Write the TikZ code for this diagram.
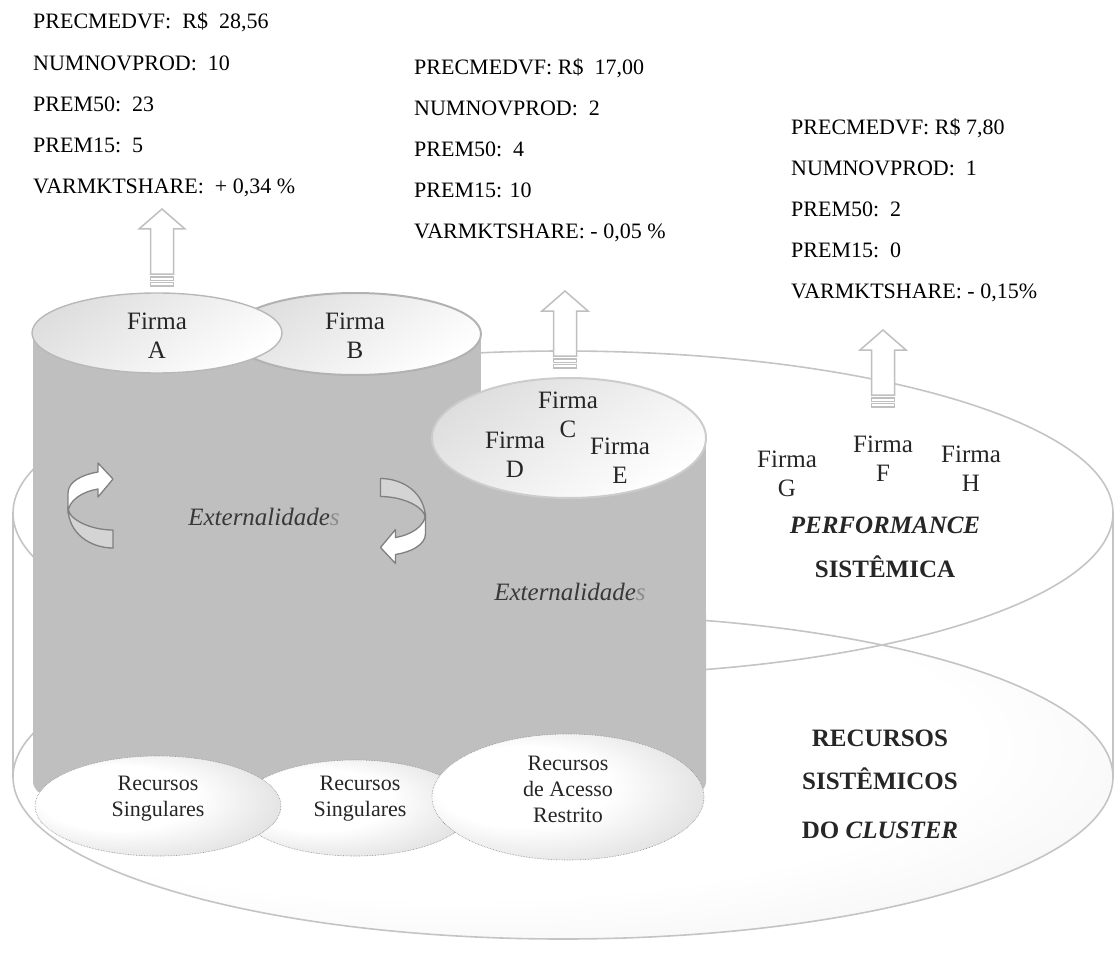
\documentclass[tikz,border=0pt]{standalone}
\usepackage{fontspec}
\setmainfont{Liberation Serif}
\definecolor{cylgray}{HTML}{BFBFBF}
\definecolor{rimgray}{HTML}{C4C4C4}
\definecolor{backgray}{HTML}{D4D4D4}
\definecolor{inkgray}{HTML}{262626}
\pgfdeclareradialshading{recshade}{\pgfpoint{-12bp}{6bp}}{color(0bp)=(white); color(16bp)=(white); color(50bp)=(black!26)}
\pgfdeclareradialshading{discshade}{\pgfpoint{-10bp}{10bp}}{color(0bp)=(white); color(24bp)=(white); color(50bp)=(black!11)}
\begin{document}
\begin{tikzpicture}[x=1pt,y=-1pt,
  stat/.style={anchor=base west, inner sep=0, font=\fontsize{22}{26}\selectfont, text=black},
  firma/.style={align=center, inner sep=0, font=\fontsize{25}{29}\selectfont, text=inkgray},
  rec/.style={align=center, inner sep=0, font=\fontsize{22}{26}\selectfont, text=inkgray},
  extl/.style={anchor=base, inner sep=0, font=\fontsize{25}{29}\selectfont\itshape, text=black!78},
  heavy/.style={anchor=base, inner sep=0, font=\fontsize{25}{29}\selectfont\bfseries, text=inkgray},
  rim/.style={draw=rimgray, line width=1.6pt},
  arrowline/.style={draw=black!25, line width=1.5pt, fill=white},
  turnline/.style={draw=black!50, line width=1.3pt, line join=round},
  topcap/.style={top color=black!13, bottom color=white, shading angle=35},
  resource/.style={shading=recshade, draw=black!45, densely dotted, line width=0.6pt},
  uparrow/.pic={
    \draw[arrowline] (0,0) -- (23,20) -- (11.5,20) -- (11.5,65) -- (-11.5,65)
          -- (-11.5,20) -- (-23,20) -- cycle;
    \draw[arrowline] (-11.5,68) rectangle (11.5,71.5);
    \draw[arrowline] (-11.5,73.5) rectangle (11.5,77);
  },
  turnarrow/.pic={
    % rear part of the ribbon
    \draw[turnline, fill=backgray] (-22.5,2) .. controls (-22.5,28) and (0,42.5) .. (22.5,42.5)
          -- (22.5,24.5) .. controls (0,24.5) and (-22.5,14) .. cycle;
    % front part of the ribbon with its head
    \draw[turnline, fill=white] (7.5,-33.5) -- (7.5,-42.5) -- (22.5,-26.5) -- (7.5,-8.5)
          -- (7.5,-16.5) .. controls (-8,-14) and (-22.5,-5) .. (-22.5,7.5)
          -- (-22.5,-12.5) .. controls (-22.5,-24) and (-8,-31) .. cycle;
  }
]
\useasboundingbox (0,0) rectangle (1115,968);

% base disc of systemic resources
\path[shading=discshade, rim] (563,777) ellipse [x radius=550, y radius=162];
\draw[rim] (13,513) -- (13,777);
\draw[rim] (1113,513) -- (1113,777);
% systemic performance level
\draw[rim] (563,513) ellipse [x radius=550, y radius=162];

% arrow of the firms outside the cluster core
\pic at (883,330) {uparrow};

% bodies of the firm cylinders
\fill[cylgray] (33,334) rectangle (481,700);
\fill[cylgray] (432,438) rectangle (706,700);
\fill[cylgray, rounded corners=14] (33,600) rectangle (706,795);

% tops of the cylinders
\path[topcap, draw=black!30, line width=2pt] (355,334) ellipse [x radius=126, y radius=41];
\path[topcap, draw=black!28, line width=1.4pt] (157,333) ellipse [x radius=125, y radius=40];
\path[topcap, draw=black!20, line width=2pt] (569,438) ellipse [x radius=137, y radius=60];

% resources at the base of the cylinders
\path[resource] (355,808) ellipse [x radius=116, y radius=48];
\path[resource] (158,806) ellipse [x radius=123, y radius=50];
\path[resource] (568,797) ellipse [x radius=136, y radius=63];

% externality loops
\pic at (90.5,505.5) {turnarrow};
\pic[rotate=180] at (403,521) {turnarrow};

% arrows above the cylinders
\pic at (162,209) {uparrow};
\pic at (565,291) {uparrow};

% firm labels
\node[firma] (fA) at (157,336) {Firma\\A};
\node[firma] (fB) at (355,336) {Firma\\B};
\node[firma] (fC) at (568,415) {Firma\\C};
\node[firma] (fD) at (515,455) {Firma\\D};
\node[firma] (fE) at (620,461) {Firma\\E};
\node[firma] (fG) at (787,474) {Firma\\G};
\node[firma] (fF) at (883,459) {Firma\\F};
\node[firma] (fH) at (971,469) {Firma\\H};

\node[extl] (ext1) at (264,525) {Externalidade{\color{black!45}s}};
\node[extl] (ext2) at (570,600) {Externalidade{\color{black!45}s}};

\node[heavy] (perf) at (885,533) {\itshape PERFORMANCE};
\node[heavy] (sist) at (885,577) {SISTÊMICA};

\node[heavy] (rs1) at (880,746) {RECURSOS};
\node[heavy] (rs2) at (880,789) {SISTÊMICOS};
\node[heavy] (rs3) at (880,838) {DO \textit{CLUSTER}};

\node[rec] (r1) at (158,799) {Recursos\\Singulares};
\node[rec] (r2) at (360,799) {Recursos\\Singulares};
\node[rec] (r3) at (568,789) {Recursos\\de Acesso\\Restrito};

% indicators of each group
\node[stat] (a1) at (33,29) {PRECMEDVF:\ \ R\$\ \ 28,56};
\node[stat] (a2) at (33,70.25) {NUMNOVPROD:\ \ 10};
\node[stat] (a3) at (33,111.5) {PREM50:\ \ 23};
\node[stat] (a4) at (33,152.75) {PREM15:\ \ 5};
\node[stat] (a5) at (33,194) {VARMKTSHARE:\ \ + 0,34 \%};

\node[stat] (b1) at (414,75) {PRECMEDVF: R\$\ \ 17,00};
\node[stat] (b2) at (414,115.75) {NUMNOVPROD:\ \ 2};
\node[stat] (b3) at (414,156.5) {PREM50:\ \ 4};
\node[stat] (b4) at (414,197.25) {PREM15: 10};
\node[stat] (b5) at (414,238) {VARMKTSHARE: - 0,05 \%};

\node[stat] (c1) at (791,135) {PRECMEDVF: R\$ 7,80};
\node[stat] (c2) at (791,175.75) {NUMNOVPROD:\ \ 1};
\node[stat] (c3) at (791,216.5) {PREM50:\ \ 2};
\node[stat] (c4) at (791,257.25) {PREM15:\ \ 0};
\node[stat] (c5) at (791,298) {VARMKTSHARE: - 0,15\%};
\end{tikzpicture}
\end{document}
